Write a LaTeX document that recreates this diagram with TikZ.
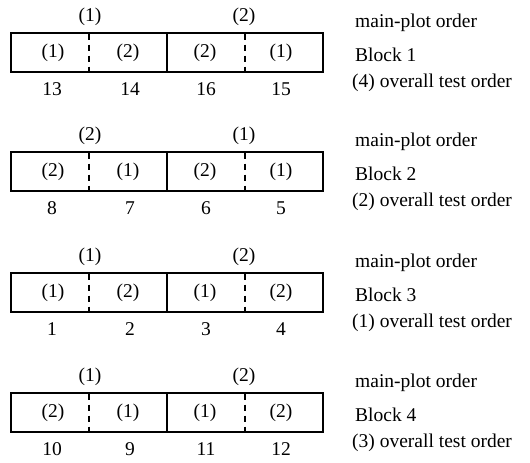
\documentclass[tikz,border=0pt]{standalone}
\usepackage{fontspec}
\setmainfont{Liberation Serif}
\begin{document}
\begin{tikzpicture}[x=1pt,y=-1pt,
  txt/.style={font=\fontsize{19.5}{23}\selectfont, inner sep=0pt},
  half/.style={draw, line width=2.6pt, minimum width=156pt, minimum height=39pt, inner sep=0pt},
  split/.style={line width=2.4pt, dash pattern=on 6pt off 5pt, dash phase=-2pt},
  side/.style={txt, anchor=west}]
\useasboundingbox (0,0) rectangle (530,463);
% one block per row: top edge, main-plot labels, sub-plot labels, run numbers, overall order
\foreach \k/\T/\ma/\mb/\ca/\cb/\cc/\cd/\na/\nb/\nc/\nd/\ov in {
  1/33/1/2/1/2/2/1/13/14/16/15/4,
  2/152/2/1/2/1/2/1/8/7/6/5/2,
  3/273/1/2/1/2/1/2/1/2/3/4/1,
  4/393/1/2/2/1/1/2/10/9/11/12/3}{
  \node[half] (L\k) at (89,\T+19.5) {};
  \node[half] (R\k) at (245,\T+19.5) {};
  \draw[split] (L\k.north) -- (L\k.south);
  \draw[split] (R\k.north) -- (R\k.south);
  \node[txt] (ma\k) at (90,\T-16) {(\ma)};
  \node[txt] (mb\k) at (244,\T-16) {(\mb)};
  \node[txt] (ca\k) at (53,\T+19.5) {(\ca)};
  \node[txt] (cb\k) at (128,\T+19.5) {(\cb)};
  \node[txt] (cc\k) at (205,\T+19.5) {(\cc)};
  \node[txt] (cd\k) at (281,\T+19.5) {(\cd)};
  \node[txt] (na\k) at (52,\T+56) {\na};
  \node[txt] (nb\k) at (130,\T+56) {\nb};
  \node[txt] (nc\k) at (206,\T+56) {\nc};
  \node[txt] (nd\k) at (281,\T+56) {\nd};
  \node[side] (mp\k) at (355,\T-10) {main-plot order};
  \node[side] (bk\k) at (355,\T+22) {Block \k};
  \node[side] (ov\k) at (352,\T+50) {(\ov) overall test order};
}
\end{tikzpicture}
\end{document}
